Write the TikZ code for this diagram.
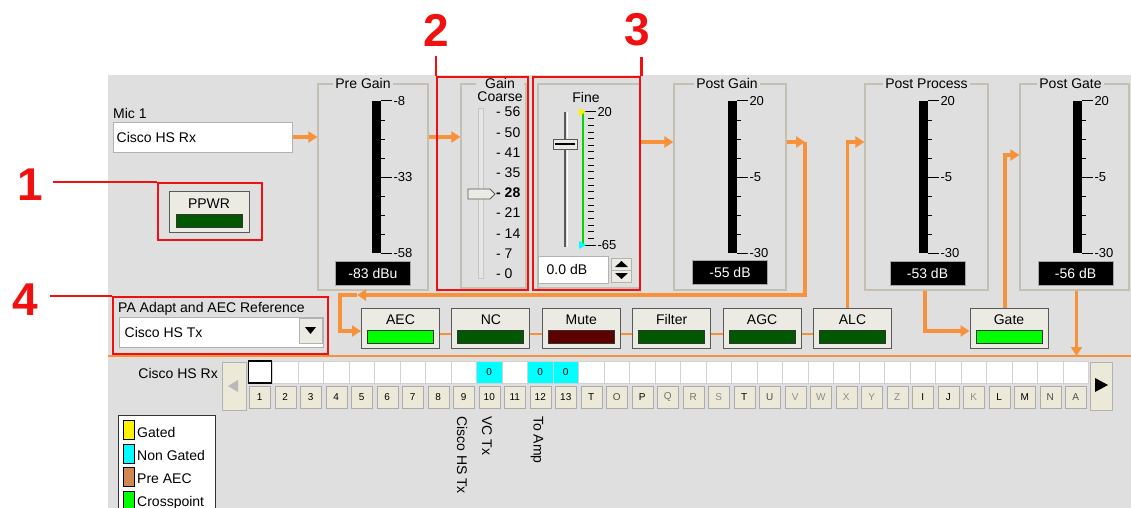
\documentclass[tikz,border=0pt]{standalone}
\usepackage{fontspec}
\setmainfont{Liberation Sans}
\usetikzlibrary{positioning,calc,arrows.meta}

\definecolor{winbg}{HTML}{DFDFDF}
\definecolor{framegray}{HTML}{C4C0B0}
\definecolor{sigorange}{HTML}{F7923A}
\definecolor{callred}{HTML}{F01010}
\definecolor{btnface}{HTML}{ECEBE3}
\definecolor{keyface}{HTML}{ECE9D8}
\definecolor{lampon}{HTML}{00FF00}
\definecolor{lampoff}{HTML}{005800}
\definecolor{lampmute}{HTML}{5C0000}
\definecolor{preaec}{HTML}{D08850}
\definecolor{nongated}{HTML}{00FFFF}

\tikzset{
  ui/.style={font=\fontsize{14}{15}\selectfont},
  groupbox/.style={draw=framegray, line width=1.2pt, inner sep=0pt},
  gtitle/.style={ui, fill=winbg, inner sep=2pt},
  meterlbl/.style={font=\fontsize{13}{14}\selectfont, inner sep=1pt, anchor=west},
  readout/.style={ui, fill=black, text=white, draw=gray!70, line width=1pt, minimum width=75pt, minimum height=24pt, inner sep=0pt},
  btn/.style={draw=gray!70!black, fill=btnface, line width=1pt, minimum width=78pt, minimum height=40pt, inner sep=0pt},
  btnlbl/.style={ui, inner sep=0pt},
  lamp/.style={draw=black!80, line width=1pt, minimum width=66pt, minimum height=13pt, inner sep=0pt},
  sigline/.style={draw=sigorange, line width=3.5pt},
  sigflow/.style={sigline, -{Triangle[length=9pt,width=11pt]}},
  linkline/.style={draw=sigorange, line width=2.8pt},
  redline/.style={draw=callred, line width=2.5pt},
  redbox/.style={redline, inner sep=0pt},
  rednum/.style={text=callred, inner sep=0pt, font=\fontsize{46}{46}\selectfont\bfseries},
  xcell/.style={draw=gray!35, fill=white, minimum width=25.5pt, minimum height=22pt, inner sep=0pt, font=\fontsize{10}{11}\selectfont},
  keycap/.style={draw=gray!65, fill=keyface, minimum width=21pt, minimum height=22pt, inner sep=0pt, font=\fontsize{10}{11}\selectfont},
}

\begin{document}
\begin{tikzpicture}[x=1pt,y=-1pt]
    \useasboundingbox (0,0) rectangle (1131,508);
    \fill[winbg] (108,75) rectangle (1131,508);
    %
    \coordinate (lane1) at (0,137);
    \coordinate (lane2) at (0,142);
    \coordinate (lane3) at (0,155);
    \coordinate (loopr) at (805,295);
    \coordinate (loopl) at (340,295);
    \coordinate (loophd) at (357,295);
    \coordinate (sep) at (0,356);
    \coordinate (panelL) at (108,0);
    \coordinate (panelR) at (1131,0);

    % input
    \node[ui, anchor=west, inner sep=0pt] (miclbl) at (113,113) {Mic 1};
    \node[draw=gray!60, fill=white, line width=1pt, minimum width=179pt, minimum height=30pt, inner sep=0pt] (micbox) at (202.5,137) {};
    \node[ui, inner sep=0pt, right=4pt of micbox.west] (micname) {Cisco HS Rx};
    \node[btn, minimum width=80pt, minimum height=41pt] (ppwr) at (209,211.5) {};
    \node[btnlbl, below=8pt of ppwr.north] (ppwrlbl) {PPWR};
    \node[lamp, fill=lampoff, above=5pt of ppwr.south] (ppwrlamp) {};

    % frames
    \node[groupbox, minimum width=110pt, minimum height=206pt] (pregain) at (373,187) {};
    \node[groupbox, minimum width=65pt, minimum height=204pt] (coarse) at (493.5,186) {};
    \node[groupbox, minimum width=102pt, minimum height=204pt] (fine) at (589,186) {};
    \node[groupbox, minimum width=112pt, minimum height=206pt] (postgain) at (730,187) {};
    \node[groupbox, minimum width=123pt, minimum height=206pt] (postproc) at (926.5,187) {};
    \node[groupbox, minimum width=109pt, minimum height=206pt] (postgate) at (1074.5,187) {};
    \node[gtitle] (tpre) at ([xshift=-10pt]pregain.north) {Pre Gain};
    \node[gtitle, align=center, font=\fontsize{14}{13}\selectfont, inner sep=1pt] (tcoarse) at (500,90) {Gain\\Coarse};
    \node[ui, inner sep=0pt] (tfine) at (586,97) {Fine};
    \node[gtitle] (tpostgain) at ([xshift=-3pt]postgain.north) {Post Gain};
    \node[gtitle] (tpostproc) at (postproc.north) {Post Process};
    \node[gtitle] (tpostgate) at ([xshift=-4pt]postgate.north) {Post Gate};

    % meters
    \foreach \bx/\hi/\md/\lo [count=\m] in {372/-8/-33/-58, 728/20/-5/-30, 919/20/-5/-30, 1073/20/-5/-30} {
      \fill (\bx,101) rectangle ++(9,152);
      \foreach \k in {1,2,3,5,6,7}
        \draw[line width=1pt] (\bx+9,101+19*\k) -- ++(4,0);
      \draw[line width=1pt] (\bx+9,101) -- ++(11,0) node[meterlbl] (mhi\m) {\hi};
      \draw[line width=1pt] (\bx+9,177) -- ++(11,0) node[meterlbl] (mmd\m) {\md};
      \draw[line width=1pt] (\bx+9,253) -- ++(11,0) node[meterlbl] (mlo\m) {\lo};
    }
    \node[readout] (rdpre) at (373,273) {-83 dBu};
    \node[readout] (rdpostgain) at (730,272) {-55 dB};
    \node[readout] (rdpostproc) at (927.5,273) {-53 dB};
    \node[readout] (rdpostgate) at (1075.5,273) {-56 dB};

    % coarse slider
    \draw[fill=gray!20, draw=gray!45] (478,108) rectangle (483,278);
    \draw[fill=btnface, draw=gray!70!black, line width=0.8pt] (468,189) -- (490,189) -- (495,194) -- (490,199) -- (468,199) -- cycle;
    \foreach \v [count=\i from 0] in {56,50,41,35,28,21,14,7,0}
      \node[ui, anchor=west, inner sep=0pt] (cs\i) at (496,112+20.2*\i) {\ifnum\v=28 \bfseries\fi - \v};

    % fine slider
    \draw[line width=2pt, black!65] (565,112) -- (565,247);
    \draw[line width=0.8pt, white] (567,112) -- (567,247);
    \node[draw=gray!70!black, fill=btnface, minimum width=24pt, minimum height=10pt, inner sep=0pt] (finethumb) at (565,144) {};
    \draw[line width=1.6pt] ([xshift=2pt]finethumb.west) -- ([xshift=-2pt]finethumb.east);
    \draw[line width=1.2pt, lampon!85!black] (583,112) -- (583,245);
    \foreach \k in {1,...,19}
      \draw[line width=0.9pt] (588,112+6.65*\k) -- ++(6,0);
    \draw[line width=1pt] (583,112) -- (596,112) node[meterlbl] (fhi) {20};
    \draw[line width=1pt] (583,245) -- (596,245) node[meterlbl] (flo) {-65};
    \fill[yellow] (579,108) -- (586,112) -- (579,116) -- cycle;
    \fill[nongated] (579,241) -- (586,245) -- (579,249) -- cycle;
    \node[draw=gray!60, fill=white, line width=1pt, minimum width=70pt, minimum height=27pt, inner sep=0pt] (finebox) at (573,269.5) {};
    \node[ui, inner sep=0pt, right=9pt of finebox.west] (finetxt) {0.0 dB};
    \node[draw=gray!60, fill=btnface, minimum width=20pt, minimum height=24pt, inner sep=0pt] (spin) at (621.5,270) {};
    \draw[gray!60] (spin.west) -- (spin.east);
    \fill (615,267) -- (628,267) -- (621.5,261) -- cycle;
    \fill (615,273) -- (628,273) -- (621.5,279) -- cycle;

    % reference select
    \node[ui, anchor=west, inner sep=0pt] (palbl) at (118,309) {PA Adapt and AEC Reference};
    \node[draw=gray!60, fill=white, line width=1pt, minimum width=204pt, minimum height=30pt, inner sep=0pt] (pabox) at (221,332) {};
    \node[ui, inner sep=0pt, right=6pt of pabox.west] (paname) {Cisco HS Tx};
    \node[draw=gray!60, fill=btnface, minimum width=23pt, minimum height=25pt, inner sep=0pt] (padrop) at (310.5,331) {};
    \fill (305,327) -- (316,327) -- (310.5,334) -- cycle;

    % processing buttons
    \foreach \nm/\txt/\lc [count=\i from 0] in {aec/AEC/lampon, nc/NC/lampoff, mute/Mute/lampmute, filter/Filter/lampoff, agc/AGC/lampoff, alc/ALC/lampoff} {
      \node[btn] (\nm) at (400.5+90.4*\i,328) {};
      \node[btnlbl, below=7pt of \nm.north] (\nm-lbl) {\txt};
      \node[lamp, fill=\lc, above=5pt of \nm.south] (\nm-lamp) {};
    }
    \node[btn] (gate) at (1009,328) {};
    \node[btnlbl, below=7pt of gate.north] (gate-lbl) {Gate};
    \node[lamp, fill=lampon, above=5pt of gate.south] (gate-lamp) {};

    % signal flow
    \draw[sigflow] (micbox.east) -- (micbox.east -| pregain.west);
    \draw[sigflow] (pregain.east |- lane1) -- (coarse.west |- lane1);
    \draw[sigflow] (fine.east |- lane2) -- (postgain.west |- lane2);
    \draw[sigflow] (postgain.east |- lane2) -- (loopr |- lane2);
    \draw[sigflow] (loopr |- lane2) -- (loopr) -- (loophd);
    \draw[sigflow] (loophd) -- (loopl) |- ([yshift=-3pt]aec.west);
    \foreach \a/\b in {aec/nc, nc/mute, mute/filter, filter/agc, agc/alc}
      \draw[linkline] ([yshift=-6pt]\a.east) -- ([yshift=-6pt]\b.west);
    \draw[sigflow] ([xshift=-5pt]alc.north) |- (postproc.west |- lane2);
    \draw[sigflow] ([xshift=-1.5pt]postproc.south) |- ([yshift=-3pt]gate.west);
    \draw[sigflow] ([xshift=-4pt]gate.north) |- (postgate.west |- lane3);
    \draw[sigflow] ([xshift=2pt]postgate.south) -- ([xshift=2pt]postgate.south |- sep);
    \draw[sigorange, line width=1.3pt] (panelL |- sep) -- (panelR |- sep);

    % crosspoint row
    \node[ui, anchor=east, inner sep=0pt] (rowname) at (218,373) {Cisco HS Rx};
    \node[draw=gray!60, fill=keyface, minimum width=24pt, minimum height=48pt, inner sep=0pt] (scrl) at (234,386) {};
    \fill[gray!55] (228,386) -- (238,380) -- (238,392) -- cycle;
    \node[draw=gray!60, fill=keyface, minimum width=22pt, minimum height=48pt, inner sep=0pt] (scrr) at (1101,386) {};
    \fill (1095,378) -- (1108,385) -- (1095,392) -- cycle;
    \foreach \i in {0,...,32}
      \node[xcell] (x\i) at (259.75+25.5*\i,372) {};
    \foreach \i in {9,11,12}
      \node[xcell, fill=nongated] (nz\i) at (x\i) {0};
    \node[draw=black, line width=1.2pt, minimum width=23pt, minimum height=22pt, inner sep=0pt] (sel) at (x0) {};
    \foreach \k in {1,...,13}
      \node[keycap] (k\k) at (234.25+25.5*\k,397) {\k};
    \foreach \l/\c [count=\i from 13] in {T/black, O/black!70, P/black, Q/black!55, R/black!55, S/black!45, T/black, U/black!70, V/black!45, W/black!45, X/black!45, Y/black!45, Z/black!45, I/black, J/black, K/black!45, L/black, M/black, N/black!70, A/black!70}
      \node[keycap, text=\c] (kl\i) at (259.75+25.5*\i,397) {\l};

    % channel names
    \node[ui, rotate=-90, anchor=west, inner sep=0pt] (tx9) at (462,416) {Cisco HS Tx};
    \node[ui, rotate=-90, anchor=west, inner sep=0pt] (tx10) at (487,416) {VC Tx};
    \node[ui, rotate=-90, anchor=west, inner sep=0pt] (tx12) at (537,416) {To Amp};

    % legend
    \node[draw=black!80, fill=white, line width=1.2pt, minimum width=97pt, minimum height=100pt, anchor=north west, inner sep=0pt] (legend) at (118,415) {};
    \foreach \c/\t [count=\i from 0] in {yellow/Gated, nongated/Non Gated, preaec/Pre AEC, lampon/Crosspoint} {
      \node[draw=black, line width=1pt, fill=\c, minimum width=11pt, minimum height=19pt, inner sep=0pt] (sw\i) at (129,430+23.5*\i) {};
      \node[ui, anchor=west, inner sep=0pt] (lg\i) at (137,432+23.5*\i) {\t};
    }

    % callouts
    \node[rednum] (n1) at (30,185) {1};
    \node[redbox, minimum width=104pt, minimum height=57pt] (c1) at (210,211.5) {};
    \draw[redline] ([xshift=10pt]n1.east |- c1.north) -- (c1.north west);
    \node[rednum] (n2) at (436,30) {2};
    \node[redbox, minimum width=91pt, minimum height=213pt] (c2) at (482.5,183.5) {};
    \draw[redline] ([yshift=-10pt]n2.south -| c2.west) -- (c2.north west);
    \node[rednum] (n3) at (637,30) {3};
    \node[redbox, minimum width=107pt, minimum height=213pt] (c3) at (586.5,183.5) {};
    \draw[redline] ([yshift=-10pt]n3.south -| c3.east) -- (c3.north east);
    \node[rednum] (n4) at (25,300) {4};
    \node[redbox, minimum width=215pt, minimum height=57pt] (c4) at (220.5,325.5) {};
    \draw[redline] ([xshift=12pt]n4.east |- c4.north) -- (c4.north west);
\end{tikzpicture}
\end{document}
